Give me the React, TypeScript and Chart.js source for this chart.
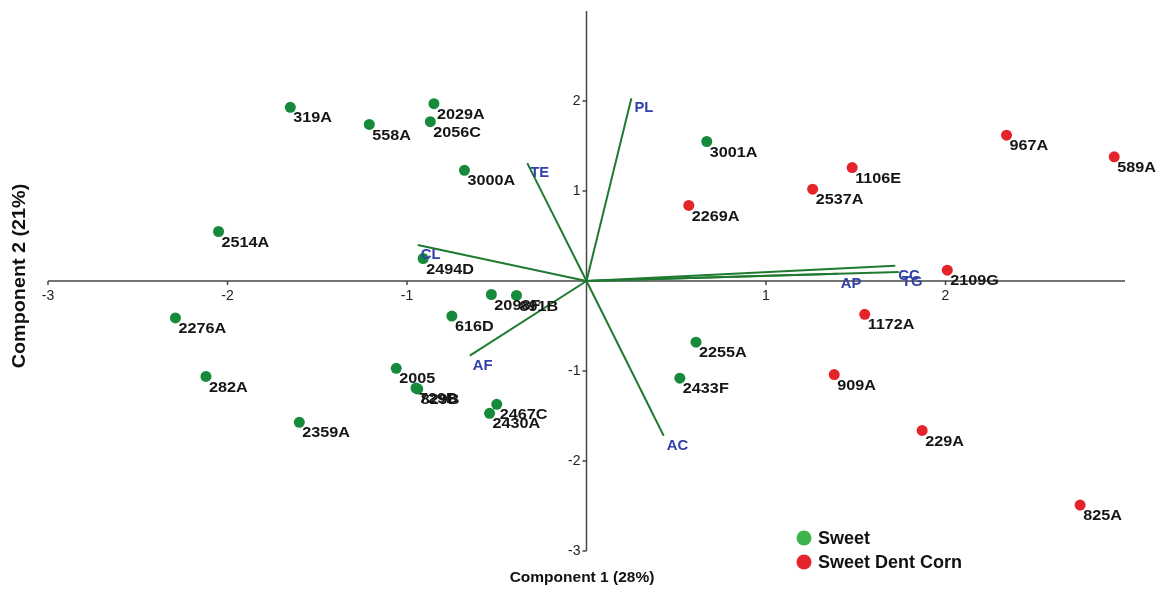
import React, { useEffect, useRef } from "react";
import { Chart, registerables } from "chart.js";

Chart.register(...registerables);

// ---- data ----
const sweetNames = ["319A", "558A", "2029A", "2056C", "3000A", "2514A", "2494D", "2098F", "891B", "616D", "2276A", "282A", "2005", "729B", "829B", "2467C", "2430A", "2359A", "3001A", "2255A", "2433F"];
const sweetX = [-1.65, -1.21, -0.85, -0.87, -0.68, -2.05, -0.91, -0.53, -0.39, -0.75, -2.29, -2.12, -1.06, -0.95, -0.94, -0.5, -0.54, -1.6, 0.67, 0.61, 0.52];
const sweetY = [1.93, 1.74, 1.97, 1.77, 1.23, 0.55, 0.25, -0.15, -0.16, -0.39, -0.41, -1.06, -0.97, -1.19, -1.2, -1.37, -1.47, -1.57, 1.55, -0.68, -1.08];

const dentNames = ["2269A", "2537A", "1106E", "967A", "589A", "2109G", "1172A", "909A", "229A", "825A"];
const dentX = [0.57, 1.26, 1.48, 2.34, 2.94, 2.01, 1.55, 1.38, 1.87, 2.75];
const dentY = [0.84, 1.02, 1.26, 1.62, 1.38, 0.12, -0.37, -1.04, -1.66, -2.49];

const vectorNames = ["PL", "TE", "CL", "AF", "AC", "CC", "TG", "AP"];
const vectorX = [0.25, -0.33, -0.94, -0.65, 0.43, 1.72, 1.74, 1.4];
const vectorY = [2.03, 1.31, 0.4, -0.83, -1.72, 0.17, 0.1, 0.08];

const xTicks = [-3, -2, -1, 1, 2];
const yTicks = [2, 1, -1, -2, -3];
const axisMin = -3;
const axisMax = 3;

const seriesNames = ["Sweet", "Sweet Dent Corn"];
const xTitle = "Component 1 (28%)";
const yTitle = "Component 2 (21%)";

// ---- styles ----
const GREEN = "#168a3b";
const RED = "#e5232a";
const LEGEND_GREEN = "#3cb44e";
const LEGEND_RED = "#e5232a";
const VECTOR = "#1f7a30";
const VECTOR_TEXT = "#3340a8";
const FONT = 'Arial, "Liberation Sans", Helvetica, sans-serif';

function wideText(ctx: CanvasRenderingContext2D, text: string, x: number, y: number, sx: number) {
  ctx.save();
  ctx.translate(x, y);
  ctx.scale(sx, 1);
  ctx.fillText(text, 0, 0);
  ctx.restore();
}

const overlayPlugin = {
  id: "biplotOverlay",
  beforeDatasetsDraw(chart: any) {
    const { ctx, scales } = chart;
    const x = scales.x;
    const y = scales.y;
    const x0 = x.getPixelForValue(0);
    const y0 = y.getPixelForValue(0);
    ctx.save();
    ctx.strokeStyle = "#474747";
    ctx.lineWidth = 1.5;
    ctx.beginPath();
    ctx.moveTo(x.getPixelForValue(axisMin), y0);
    ctx.lineTo(x.getPixelForValue(axisMax), y0);
    ctx.moveTo(x0, y.getPixelForValue(axisMax));
    ctx.lineTo(x0, y.getPixelForValue(axisMin));
    xTicks.forEach((v) => {
      const px = x.getPixelForValue(v);
      ctx.moveTo(px, y0);
      ctx.lineTo(px, y0 + 4);
    });
    yTicks.forEach((v) => {
      const py = y.getPixelForValue(v);
      ctx.moveTo(x0 - 4, py);
      ctx.lineTo(x0, py);
    });
    ctx.stroke();

    ctx.fillStyle = "#222";
    ctx.font = `14px ${FONT}`;
    ctx.textAlign = "center";
    ctx.textBaseline = "top";
    xTicks.forEach((v) => ctx.fillText(String(v), x.getPixelForValue(v), y0 + 8));
    ctx.textAlign = "right";
    ctx.textBaseline = "middle";
    yTicks.forEach((v) => ctx.fillText(String(v), x0 - 6, y.getPixelForValue(v)));
    ctx.restore();
  },
  afterDatasetsDraw(chart: any) {
    const { ctx } = chart;
    ctx.save();
    // point labels
    ctx.font = `bold 15px ${FONT}`;
    ctx.fillStyle = "#161616";
    ctx.textAlign = "left";
    ctx.textBaseline = "middle";
    const groups: [number, string[]][] = [
      [0, sweetNames],
      [1, dentNames],
    ];
    groups.forEach(([di, names]) => {
      const meta = chart.getDatasetMeta(di);
      meta.data.forEach((el: any, i: number) => {
        wideText(ctx, names[i], el.x + 3, el.y + 11, 1.08);
      });
    });
    // vector labels
    ctx.font = `bold 14px ${FONT}`;
    ctx.fillStyle = VECTOR_TEXT;
    vectorNames.forEach((name, i) => {
      const meta = chart.getDatasetMeta(2 + i);
      const end = meta.data[1];
      wideText(ctx, name, end.x + 3, end.y + 10, 1.06);
    });
    // legend
    const legendItems: [string, string, number][] = [
      [seriesNames[0], LEGEND_GREEN, 538],
      [seriesNames[1], LEGEND_RED, 562],
    ];
    ctx.font = `bold 18px ${FONT}`;
    legendItems.forEach(([label, color, cy]) => {
      ctx.beginPath();
      ctx.arc(804, cy, 7.5, 0, Math.PI * 2);
      ctx.fillStyle = color;
      ctx.fill();
      ctx.fillStyle = "#111";
      ctx.fillText(label, 818, cy + 1);
    });
    // axis titles
    ctx.fillStyle = "#111";
    ctx.font = `bold 15.5px ${FONT}`;
    ctx.textAlign = "center";
    ctx.fillText(xTitle, 582, 578);
    ctx.translate(20, 276);
    ctx.rotate(-Math.PI / 2);
    ctx.font = `bold 19px ${FONT}`;
    wideText(ctx, yTitle, 0, 0, 1.04);
    ctx.restore();
  },
};

export default function App() {
  const canvasRef = useRef<HTMLCanvasElement | null>(null);

  useEffect(() => {
    if (!canvasRef.current) return;
    const pointDs = (names: string[], xs: number[], ys: number[], color: string, label: string) => ({
      label,
      data: names.map((_, i) => ({ x: xs[i], y: ys[i] })),
      backgroundColor: color,
      borderColor: color,
      borderWidth: 0,
      pointRadius: 5.5,
      showLine: false,
    });
    const vectorDs = vectorNames.map((name, i) => ({
      label: name,
      data: [
        { x: 0, y: 0 },
        { x: vectorX[i], y: vectorY[i] },
      ],
      borderColor: VECTOR,
      backgroundColor: VECTOR,
      borderWidth: 2,
      pointRadius: 0,
      showLine: true,
    }));
    const chart = new Chart(canvasRef.current, {
      type: "scatter",
      data: {
        datasets: [
          pointDs(sweetNames, sweetX, sweetY, GREEN, seriesNames[0]),
          pointDs(dentNames, dentX, dentY, RED, seriesNames[1]),
          ...vectorDs,
        ] as any,
      },
      options: {
        responsive: false,
        animation: false,
        layout: { padding: { left: 48, right: 35, top: 11, bottom: 38 } },
        scales: {
          x: { type: "linear", min: axisMin, max: axisMax, display: false },
          y: { type: "linear", min: axisMin, max: axisMax, display: false },
        },
        plugins: {
          legend: { display: false },
          tooltip: { enabled: false },
        },
      },
      plugins: [overlayPlugin],
    });
    return () => chart.destroy();
  }, []);

  return (
    <div style={{ position: "fixed", left: 0, top: 0, width: 1160, height: 589, background: "#fff" }}>
      <canvas ref={canvasRef} width={1160} height={589} style={{ width: 1160, height: 589, display: "block" }} />
    </div>
  );
}
